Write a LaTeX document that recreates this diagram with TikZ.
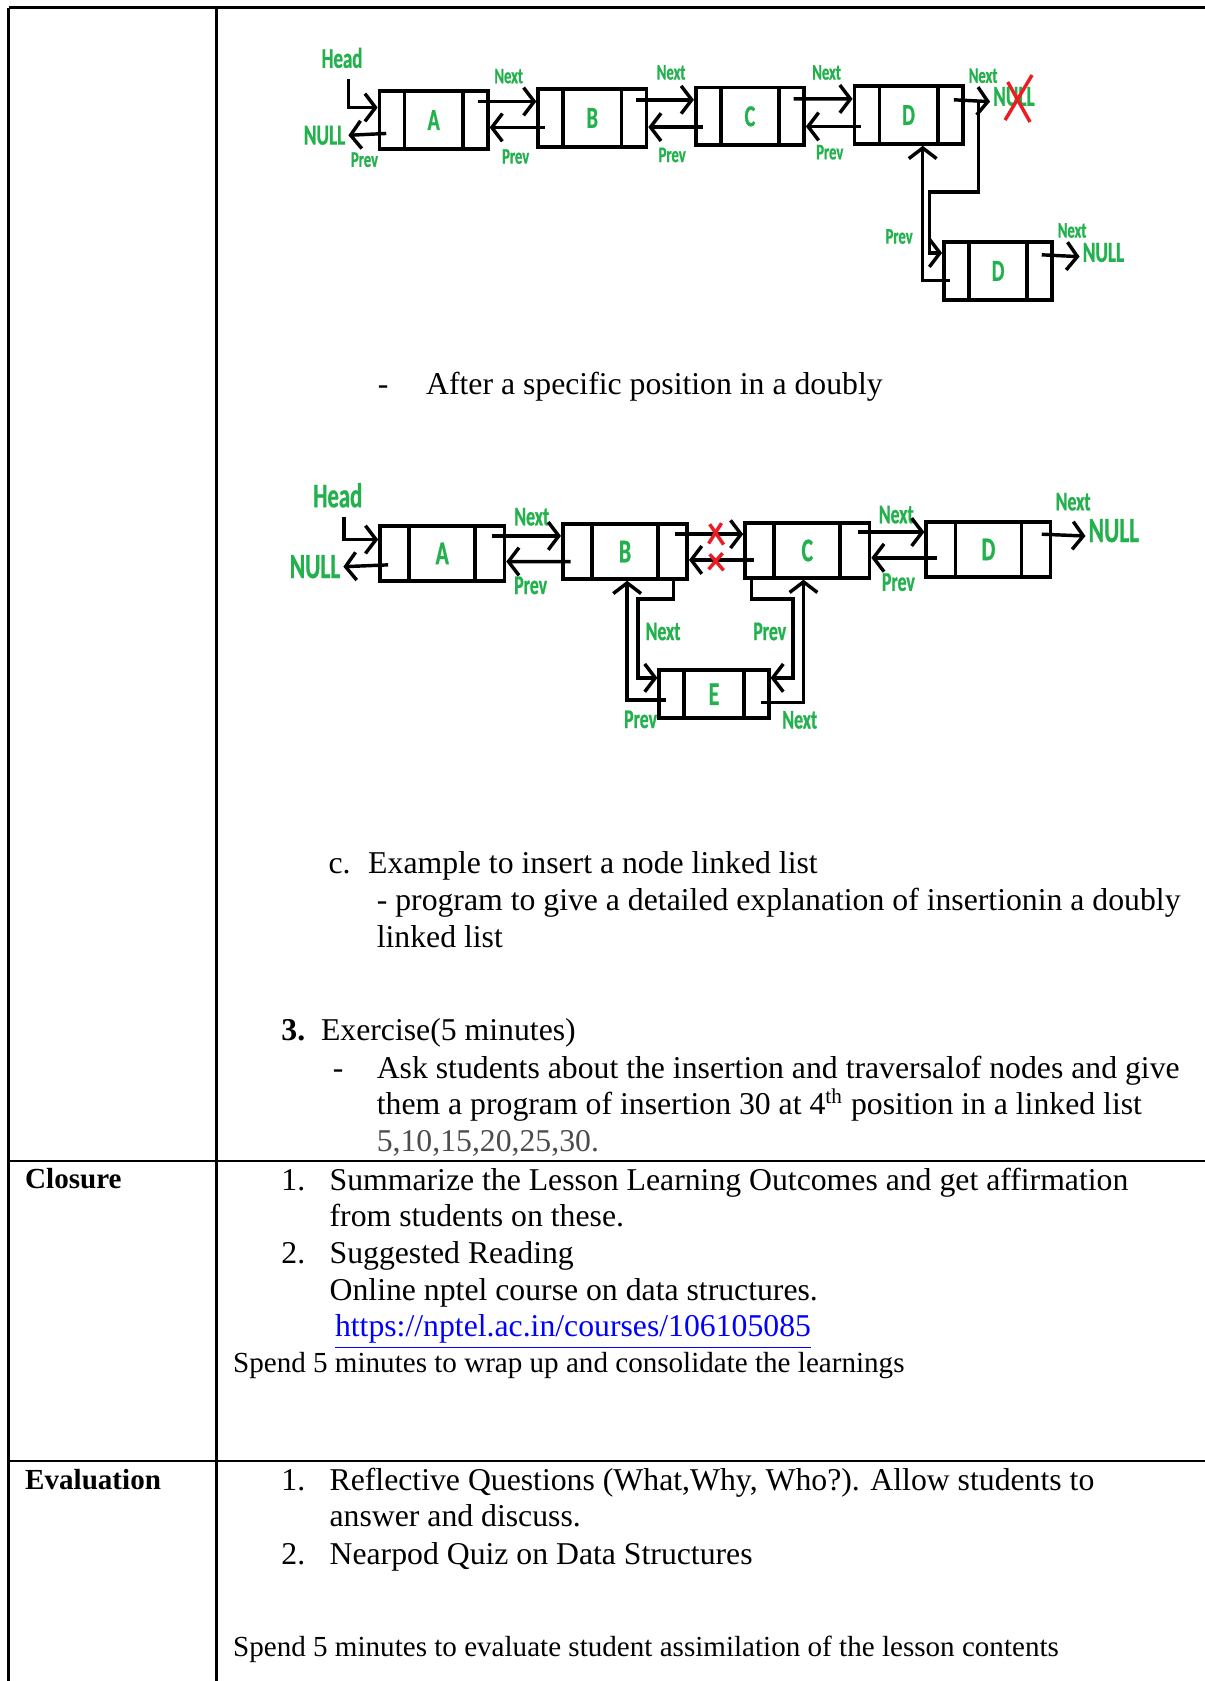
\documentclass[tikz,border=0pt]{standalone}
\usepackage{fontspec}
\setmainfont{Liberation Serif}
\newfontfamily\diagfont[FakeStretch=0.66, FakeBold=0.8]{Carlito}
\usetikzlibrary{arrows.meta}
\usepackage{xcolor}
\definecolor{PaintGreen}{HTML}{22B14C}
\definecolor{PaintRed}{HTML}{ED1C24}
\definecolor{LinkBlue}{HTML}{0000FF}
\newcommand{\pxu}{0.4054pt}
\newcommand{\diagsize}[1]{\diagfont\bfseries\fontsize{#1}{#1}\selectfont}

\tikzset{
  listbox/.style={draw, line width=1.4pt, inner sep=0pt, text=PaintGreen},
  divider/.style={line width=1.4pt},
  ptr/.style={line width=1.3pt, -{Straight Barb[length=4pt, width=10.5pt]}},
  tag/.style={text=PaintGreen, inner sep=0pt},
  nulltag/.style={text=PaintGreen, inner sep=1pt},
  cross/.style={PaintRed, line width=1.3pt},
  body/.style={anchor=base west, inner sep=0pt, font=\fontsize{12}{14}\selectfont},
  bodybold/.style={body, font=\fontsize{11}{13}\selectfont\bfseries},
  small/.style={anchor=base west, inner sep=0pt, font=\fontsize{11}{13}\selectfont},
  grid/.style={line width=0.9pt},
  thin grid/.style={line width=0.7pt}
}

\begin{document}
\begin{tikzpicture}[x=\pxu, y=-\pxu]
\useasboundingbox (0,0) rectangle (1124,1568);

% table rules
\draw[grid] (8,7) -- (1124,7);
\draw[grid] (8,7) -- (8,1568);
\draw[grid] (202,7) -- (202,1568);
\draw[thin grid] (8,1083) -- (1124,1083);
\draw[thin grid] (8,1363) -- (1124,1363);

% first list: new node after the last one
\foreach \n/\x/\y/\t in {a1/404.5/112/A, b1/552.5/110/B, c1/699.5/108.5/C, d1/847.5/107.3/D, e1/931/252.7/D} {
  \node[listbox, minimum width=101*\pxu, minimum height=54*\pxu, font=\diagsize{11.5}] (\n) at (\x,\y) {\t};
  \draw[divider] ([xshift=25*\pxu]\n.north west) -- ([xshift=25*\pxu]\n.south west)
                 ([xshift=-25*\pxu]\n.north east) -- ([xshift=-25*\pxu]\n.south east);
}
\node[tag, font=\diagsize{10.8}] (head1) at (319,54) {Head};
\node[nulltag, anchor=east, font=\diagsize{11}] (null1) at (325,126.2) {NULL};
\node[nulltag, anchor=west, font=\diagsize{11}] (null2) at (923.5,90) {NULL};
\node[nulltag, anchor=west, font=\diagsize{11}] (null3) at (1007,235.5) {NULL};
\foreach \n/\x/\y/\t in {pv0/340/149/Prev, nxab/474.5/71/Next, pvba/481/146/Prev,
    nxbc/626/67.6/Next, pvcb/627/144.5/Prev, nxcd/771/67.6/Next, pvdc/774/142/Prev,
    nxd/917/70.6/Next, pvnew/838.7/220.6/Prev, nxnew/1000/215/Next} {
  \node[tag, font=\diagsize{8.4}] (\n) at (\x,\y) {\t};
}

\draw[ptr] ([shift={(6,10)}]head1.south) |- ([shift={(0,17)}]a1.north west);
\draw[ptr] ([shift={(8,41.2)}]a1.north west) -- (null1.east);
\draw[ptr] ([shift={(-11,11.4)}]a1.north east) -- ([shift={(0,13.4)}]b1.north west);
\draw[ptr] ([shift={(8,37.6)}]b1.north west) -- ([shift={(0,35.6)}]a1.north east);
\draw[ptr] ([shift={(-11.6,11.8)}]b1.north east) -- ([shift={(0,13.3)}]c1.north west);
\draw[ptr] ([shift={(8.6,38.8)}]c1.north west) -- ([shift={(0,37.3)}]b1.north east);
\draw[ptr] ([shift={(-11.5,12.5)}]c1.north east) -- ([shift={(0,13.7)}]d1.north west);
\draw[ptr] ([shift={(8,39.4)}]d1.north west) -- ([shift={(0,38.2)}]c1.north east);
\draw[ptr] ([shift={(-10,14.5)}]d1.north east) -- ([shift={(0,4.8)}]null2.west);
\draw[ptr] ([shift={(13,14.5)}]d1.north east) -- ++(0,86.2)
  -| ([shift={(-12,12)}]e1.north west) -- ([shift={(0,12)}]e1.north west);
\draw[ptr] ([shift={(7.3,37.7)}]e1.north west) -| ([xshift=13.2*\pxu]d1.south);
\draw[ptr] ([shift={(-11.5,13.7)}]e1.north east) -- ([shift={(0,3.9)}]null3.west);
\draw[cross] (937.5,112) -- (962.7,70) (940,76.5) -- (960.8,113.8);

\node[body] (dasha) at (352,368) {-};
\node[body] (afterpos) at (397,368) {After a specific position in a doubly};

% second list: new node between B and C
\foreach \n/\x/\y/\t/\w/\h/\s in {a2/412.5/516.2/A/116/51/29, b2/583/514.5/B/116/51/29,
    c2/753/513.5/C/116/51/29, d2/922/512.5/D/116/51/29, e2/666/647.5/E/102/45/25} {
  \node[listbox, minimum width=\w*\pxu, minimum height=\h*\pxu, font=\diagsize{12.5}] (\n) at (\x,\y) {\t};
  \draw[divider] ([xshift=\s*\pxu]\n.north west) -- ([xshift=\s*\pxu]\n.south west)
                 ([xshift=-\s*\pxu]\n.north east) -- ([xshift=-\s*\pxu]\n.south east);
}
\node[tag, font=\diagsize{13}] (head2) at (315,462) {Head};
\node[nulltag, anchor=east, font=\diagsize{13.4}] (null4) at (320.3,528.6) {NULL};
\node[nulltag, anchor=west, font=\diagsize{13.4}] (null5) at (1012.5,495) {NULL};
\foreach \n/\x/\y/\t in {nxab2/496/482/Next, pvba2/495/546/Prev, nxbe/618.5/589/Next,
    pvce/718/589/Prev, pveb/597.5/671/Prev, nxec/746/671.5/Next, nxcd2/836/480/Next,
    pvdc2/838/543/Prev, nxd2/1001/468/Next} {
  \node[tag, font=\diagsize{10.2}] (\n) at (\x,\y) {\t};
}

\draw[ptr] ([shift={(6,8)}]head2.south) |- ([shift={(0,14.3)}]a2.north west);
\draw[ptr] ([shift={(9.3,37.9)}]a2.north west) -- (null4.east);
\draw[ptr] ([shift={(-13,10.9)}]a2.north east) -- ([shift={(0,12.6)}]b2.north west);
\draw[ptr] ([shift={(9,36.5)}]b2.north west) -- ([shift={(0,34.8)}]a2.north east);
\draw[ptr] ([shift={(-13,11)}]b2.north east) -- ([shift={(0,12)}]c2.north west);
\draw[ptr] ([shift={(10,36)}]c2.north west) -- ([shift={(0,35)}]b2.north east);
\draw[ptr] ([shift={(-12.5,10)}]c2.north east) -- ([shift={(0,11)}]d2.north west);
\draw[ptr] ([shift={(12,35)}]d2.north west) -- ([shift={(0,34)}]c2.north east);
\draw[ptr] ([shift={(-10,13)}]d2.north east) -- ([shift={(0,5)}]null5.west);
\draw[ptr] ([shift={(-14.5,-3)}]b2.south east) -- ++(0,20)
  -| ([shift={(-18,9)}]e2.north west) -- ([shift={(0,9)}]e2.north west);
\draw[ptr] ([shift={(8,29.5)}]e2.north west) -| ([xshift=2*\pxu]b2.south);
\draw[ptr] ([shift={(7.6,-1)}]c2.south west) -- ++(0,19)
  -| ([shift={(21,9)}]e2.north east) -- ([shift={(0,9)}]e2.north east);
\draw[ptr] ([shift={(-9,31.8)}]e2.north east) -| ([xshift=-3.5*\pxu]c2.south);
\draw[cross] (661,507) -- (673,488) (662,489) -- (675,508);
\draw[cross] (661,531) -- (674,516) (662,517) -- (675,532);

% lesson text
\node[body] (itemc) at (306,815) {c.};
\node[body] (example) at (343,815) {Example to insert a node linked list};
\node[body] (progline) at (351,849) {- program to give a detailed explanation of insertionin a doubly};
\node[body] (progline2) at (351,884) {linked list};
\node[body, font=\fontsize{12}{14}\selectfont\bfseries] (num3) at (262,971) {3.};
\node[body] (exercise) at (299,971) {Exercise(5 minutes)};
\node[body] (dashb) at (310,1006) {-};
\node[body] (ask1) at (351,1006) {Ask students about the insertion and traversalof nodes and give};
\node[body] (ask2) at (351,1040) {them a program of insertion 30 at 4\textsuperscript{th} position in a linked list};
\node[body, text=black!70] (ask3) at (351,1074) {5,10,15,20,25,30.};

\node[bodybold] (closure) at (23,1109) {Closure};
\node[body] (cl1n) at (262,1110) {1.};
\node[body] (cl1) at (307,1110) {Summarize the Lesson Learning Outcomes and get affirmation};
\node[body] (cl1b) at (307,1144) {from students on these.};
\node[body] (cl2n) at (262,1179) {2.};
\node[body] (cl2) at (307,1179) {Suggested Reading};
\node[body] (cl2b) at (307,1213) {Online nptel course on data structures.};
\node[body, text=LinkBlue] (url) at (312,1247) {\underline{https://nptel.ac.in/courses/106105085}};
\node[small] (wrapup) at (217,1280) {Spend 5 minutes to wrap up and consolidate the learnings};

\node[bodybold] (evaluation) at (23,1389) {Evaluation};
\node[body] (ev1n) at (262,1390) {1.};
\node[body] (ev1) at (307,1390) {Reflective Questions (What,Why, Who?). Allow students to};
\node[body] (ev1b) at (307,1424) {answer and discuss.};
\node[body] (ev2n) at (262,1459) {2.};
\node[body] (ev2) at (307,1459) {Nearpod Quiz on Data Structures};
\node[small] (evalspend) at (217,1545) {Spend 5 minutes to evaluate student assimilation of the lesson contents};
\end{tikzpicture}
\end{document}
